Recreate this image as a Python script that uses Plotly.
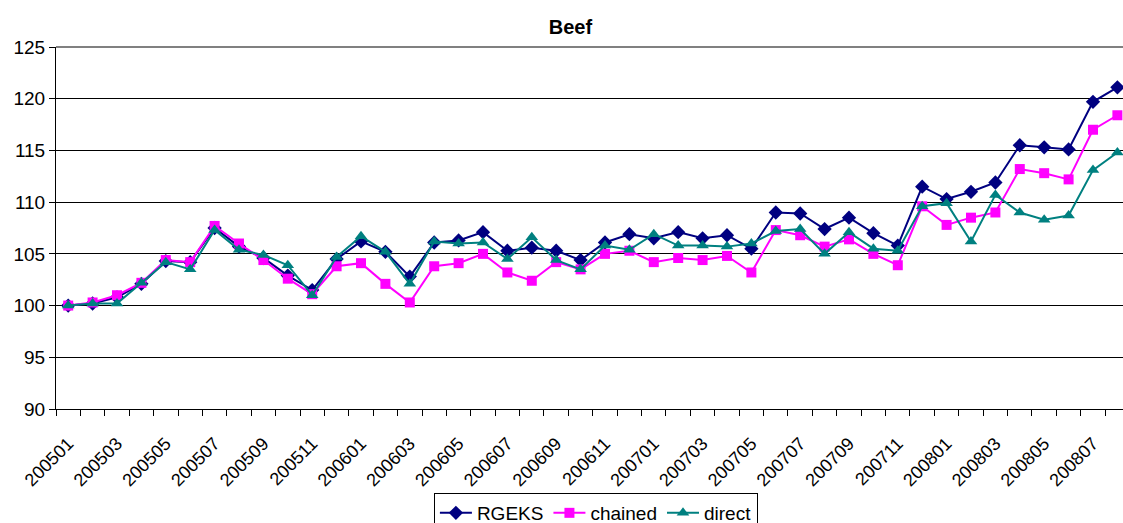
import plotly.graph_objects as go

# Monthly periods (YYYYMM)
months = [
    "200501", "200502", "200503", "200504", "200505", "200506",
    "200507", "200508", "200509", "200510", "200511", "200512",
    "200601", "200602", "200603", "200604", "200605", "200606",
    "200607", "200608", "200609", "200610", "200611", "200612",
    "200701", "200702", "200703", "200704", "200705", "200706",
    "200707", "200708", "200709", "200710", "200711", "200712",
    "200801", "200802", "200803", "200804", "200805", "200806",
    "200807", "200808",
]

# Price index series (200501 = 100)
rgeks = [
    100.0, 100.2, 100.8, 102.1, 104.3, 104.2,
    107.5, 105.7, 104.6, 102.9, 101.5, 104.5,
    106.2, 105.2, 102.8, 106.1, 106.3, 107.1,
    105.3, 105.6, 105.3, 104.4, 106.1, 106.9,
    106.5, 107.1, 106.5, 106.8, 105.5, 109.0,
    108.9, 107.4, 108.5, 107.0, 105.8, 111.5,
    110.3, 111.0, 111.9, 115.5, 115.3, 115.1,
    119.7, 121.1,
]
chained = [
    100.0, 100.3, 101.0, 102.2, 104.4, 104.2,
    107.7, 106.0, 104.4, 102.6, 101.1, 103.8,
    104.1, 102.1, 100.3, 103.8, 104.1, 105.0,
    103.2, 102.4, 104.2, 103.5, 105.0, 105.3,
    104.2, 104.6, 104.4, 104.8, 103.2, 107.3,
    106.8, 105.7, 106.4, 105.0, 103.9, 109.6,
    107.8, 108.5, 109.0, 113.2, 112.8, 112.2,
    117.0, 118.4,
]
direct = [
    100.0, 100.2, 100.2, 102.2, 104.2, 103.5,
    107.3, 105.4, 104.9, 103.9, 101.0, 104.7,
    106.7, 105.2, 102.1, 106.2, 106.0, 106.1,
    104.5, 106.6, 104.4, 103.5, 105.8, 105.4,
    106.9, 105.8, 105.8, 105.7, 106.0, 107.2,
    107.4, 105.0, 107.1, 105.5, 105.3, 109.6,
    109.9, 106.2, 110.7, 109.0, 108.3, 108.7,
    113.1, 114.8,
]

y_ticks = [90, 95, 100, 105, 110, 115, 120, 125]

idx = list(range(len(months)))
label_idx = idx[::2]
label_txt = months[::2]

FONT = "Liberation Sans, Arial, sans-serif"

series = [
    ("RGEKS", rgeks, "#000080", "diamond", 11),
    ("chained", chained, "#FF00FF", "square", 10),
    ("direct", direct, "#008080", "triangle-up", 11),
]

fig = go.Figure()
for name, vals, color, symbol, size in series:
    fig.add_trace(go.Scatter(
        x=idx, y=vals, name=name, mode="lines+markers",
        line=dict(color=color, width=2),
        marker=dict(symbol=symbol, size=size, color=color,
                    line=dict(width=0)),
    ))

fig.update_layout(
    template="none",
    width=1123, height=523,
    margin=dict(l=56, r=0, t=47, b=114, autoexpand=False),
    paper_bgcolor="white", plot_bgcolor="white",
    font=dict(family=FONT, color="black"),
    title=dict(text="<b>Beef</b>", font=dict(size=20, family=FONT),
               x=0.508, xref="container", xanchor="center",
               y=1 - 27 / 523, yref="container", yanchor="middle"),
    showlegend=True,
    legend=dict(orientation="h", x=0.506, xanchor="center",
                y=-0.2320, yanchor="top",
                bordercolor="black", borderwidth=1, bgcolor="white",
                font=dict(size=19, family=FONT),
                itemwidth=32, tracegroupgap=0),
)

fig.update_xaxes(
    range=[-0.5, 43.23],
    tickmode="array", tickvals=label_idx, ticktext=label_txt,
    tickangle=-45, tickfont=dict(size=18, family=FONT),
    ticklabelstandoff=16,
    ticks="", showgrid=False, zeroline=False,
    showline=True, linecolor="black", linewidth=1,
    automargin=False,
    minor=dict(tick0=-0.5, dtick=1, ticks="outside", ticklen=6,
               tickcolor="black", tickwidth=1, showgrid=False),
)

fig.update_yaxes(
    range=[90, 125],
    tickmode="array", tickvals=y_ticks,
    tickfont=dict(size=19, family=FONT),
    ticks="outside", ticklen=6, tickcolor="black", tickwidth=1,
    showgrid=True, gridcolor="black", gridwidth=1,
    zeroline=False,
    showline=True, linecolor="black", linewidth=1,
    automargin=False,
)

# grey plot-area border along the top edge
fig.add_shape(type="line", xref="paper", yref="paper",
              x0=0, x1=1, y0=1, y1=1,
              line=dict(color="#808080", width=2))

fig.write_html("out.html")
